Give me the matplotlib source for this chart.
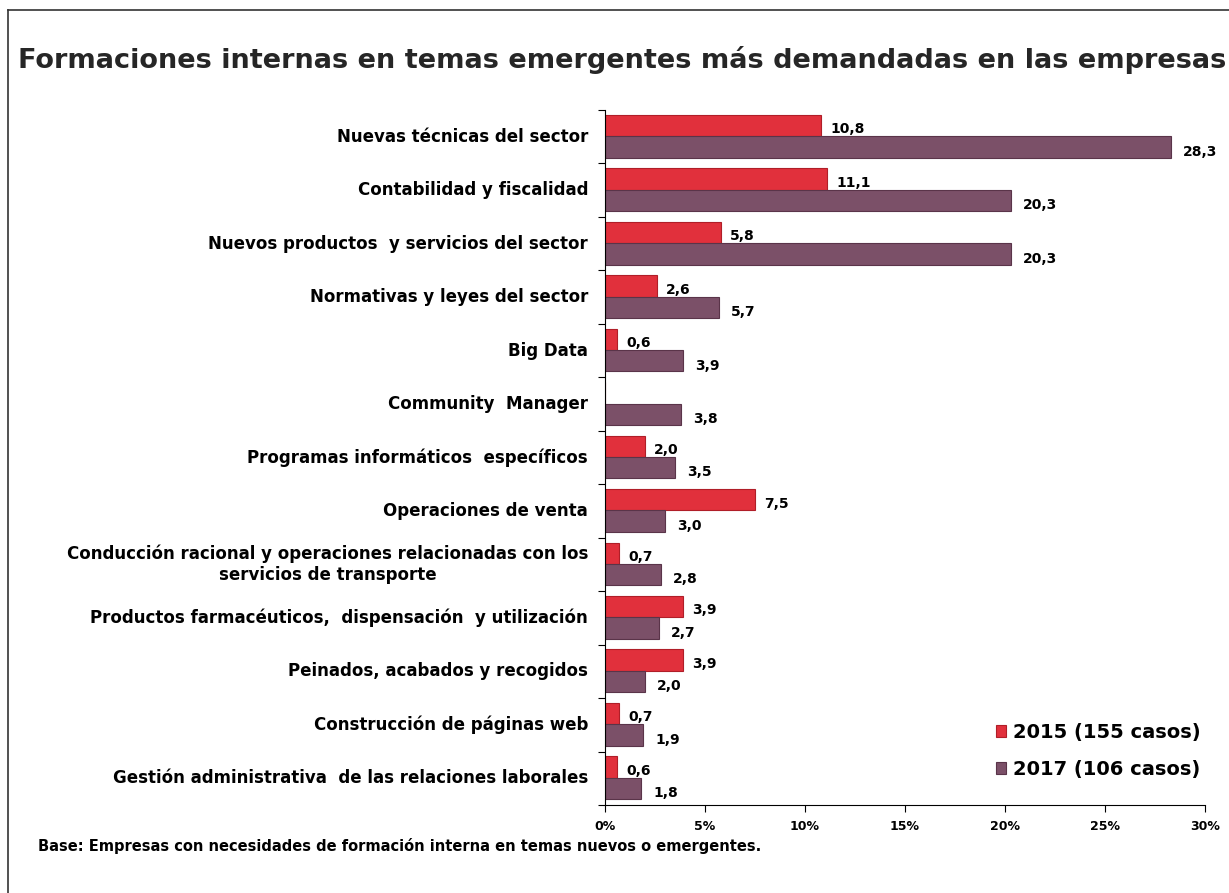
import numpy as np
import matplotlib.pyplot as plt

categories = [
    "Nuevas técnicas del sector",
    "Contabilidad y fiscalidad",
    "Nuevos productos  y servicios del sector",
    "Normativas y leyes del sector",
    "Big Data",
    "Community  Manager",
    "Programas informáticos  específicos",
    "Operaciones de venta",
    "Conducción racional y operaciones relacionadas con los\nservicios de transporte",
    "Productos farmacéuticos,  dispensación  y utilización",
    "Peinados, acabados y recogidos",
    "Construcción de páginas web",
    "Gestión administrativa  de las relaciones laborales",
]
v2015 = [10.8, 11.1, 5.8, 2.6, 0.6, None, 2.0, 7.5, 0.7, 3.9, 3.9, 0.7, 0.6]
v2017 = [28.3, 20.3, 20.3, 5.7, 3.9, 3.8, 3.5, 3.0, 2.8, 2.7, 2.0, 1.9, 1.8]
labels_legend = ["2015 (155 casos)", "2017 (106 casos)"]

red = "#e1303c"
purple = "#7b5068"

fig = plt.figure(figsize=(12.29, 8.93), dpi=100)
ax = fig.add_axes([0.4923, 0.0985, 0.4882, 0.7783])

y = np.arange(len(categories))
r = np.array([np.nan if v is None else v for v in v2015])
p = np.array(v2017)

ax.barh(y - 0.21, np.nan_to_num(r), height=0.4, color=red,
        edgecolor="#b01e28", linewidth=0.8, label=labels_legend[0])
ax.barh(y + 0.19, p, height=0.4, color=purple,
        edgecolor="#5a3449", linewidth=0.8, label=labels_legend[1])

for i in range(len(categories)):
    if not np.isnan(r[i]):
        ax.text(r[i] + 0.45, y[i] - 0.14, f"{r[i]:.1f}".replace(".", ","),
                fontsize=10, fontweight="bold", va="center", ha="left")
    ax.text(p[i] + 0.6, y[i] + 0.28, f"{p[i]:.1f}".replace(".", ","),
            fontsize=10, fontweight="bold", va="center", ha="left")

ax.set_xlim(0, 30)
ax.set_ylim(len(categories) - 0.5, -0.5)
ax.set_xticks(np.arange(0, 31, 5))
ax.set_xticklabels([f"{t}%" for t in range(0, 31, 5)], fontsize=9, fontweight="bold")
ax.set_yticks(np.arange(-0.5, len(categories), 1))
ax.set_yticklabels([])
ax.tick_params(axis="y", length=5, direction="out")
ax.tick_params(axis="x", length=5, direction="out", pad=6)

for i, c in enumerate(categories):
    ax.text(-0.85, y[i], c, transform=ax.transData, ha="right", va="center",
            fontsize=12, fontweight="bold", multialignment="center")

ax.spines["top"].set_visible(False)
ax.spines["right"].set_visible(False)

leg = ax.legend(loc="lower right", bbox_to_anchor=(1.022, 0.012), frameon=False,
                prop={"weight": "bold", "size": 14},
                handlelength=0.55, handleheight=0.55, handletextpad=0.35,
                labelspacing=0.95)

fig.text(0.015, 0.933, "Formaciones internas en temas emergentes más demandadas en las empresas",
         fontsize=19.5, fontweight="bold", color="#262626", ha="left", va="center")
fig.text(0.031, 0.053, "Base: Empresas con necesidades de formación interna en temas nuevos o emergentes.",
         fontsize=10.5, fontweight="bold", ha="left", va="center")

# border on left and top
fig.add_artist(plt.Line2D([0.0065, 0.0065], [0, 0.989], color="#333333", lw=1.2,
                          transform=fig.transFigure))
fig.add_artist(plt.Line2D([0.0065, 1.0], [0.989, 0.989], color="#333333", lw=1.2,
                          transform=fig.transFigure))

fig.savefig("out.png", dpi=100)
